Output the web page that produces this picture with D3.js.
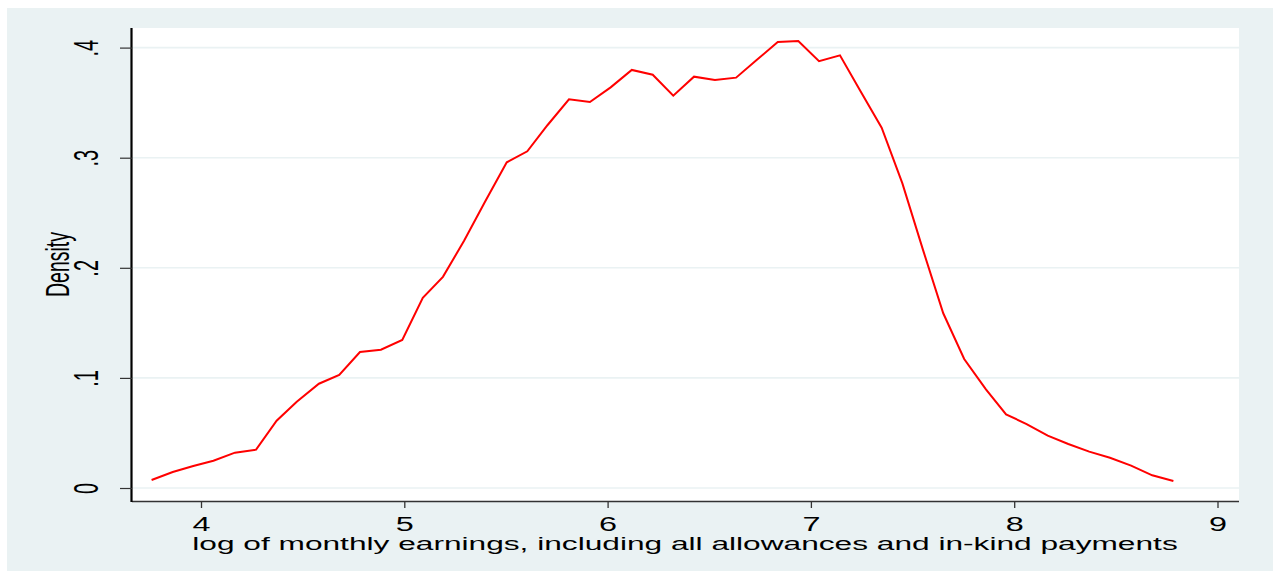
<!DOCTYPE html>
<html>
<head>
<meta charset="utf-8">
<script src="https://cdn.jsdelivr.net/npm/d3@7/dist/d3.min.js"></script>
<style>
  html, body { margin: 0; padding: 0; background: #ffffff; }
  svg { display: block; }
  text { font-family: "Liberation Sans", Arial, Helvetica, sans-serif; fill: #000; }
</style>
</head>
<body>
<svg id="chart" width="1273" height="571"></svg>
<script>
// ---- data ----
const earningsLog = [3.757, 3.861, 3.962, 4.061, 4.167, 4.271, 4.372, 4.471, 4.580, 4.680,
  4.782, 4.885, 4.990, 5.091, 5.190, 5.294, 5.397, 5.504, 5.605, 5.705,
  5.810, 5.913, 6.015, 6.119, 6.222, 6.323, 6.425, 6.528, 6.632, 6.733,
  6.837, 6.938, 7.040, 7.143, 7.242, 7.348, 7.450, 7.551, 7.651, 7.754,
  7.861, 7.960, 8.061, 8.165, 8.266, 8.369, 8.471, 8.575, 8.679, 8.783];
const density = [0.0073, 0.0145, 0.0200, 0.0248, 0.0321, 0.0348, 0.0611, 0.0784, 0.0947, 0.1026,
  0.1235, 0.1256, 0.1344, 0.1728, 0.1918, 0.2245, 0.2600, 0.2958, 0.3058, 0.3297,
  0.3530, 0.3506, 0.3639, 0.3797, 0.3754, 0.3563, 0.3736, 0.3706, 0.3727, 0.3887,
  0.4051, 0.4060, 0.3876, 0.3930, 0.3610, 0.3272, 0.2767, 0.2165, 0.1587, 0.1172,
  0.0896, 0.0669, 0.0581, 0.0475, 0.0400, 0.0330, 0.0275, 0.0203, 0.0115, 0.0064];
const xTicks = [4, 5, 6, 7, 8, 9];
const yTicks = [0, 0.1, 0.2, 0.3, 0.4];
const yTickLabels = ["0", ".1", ".2", ".3", ".4"];
const xTitle = "log of monthly earnings, including all allowances and in-kind payments";
const yTitle = "Density";

// ---- layout ----
const svg = d3.select("#chart");
const plot = { left: 132, right: 1239, top: 28, bottom: 501 };
const x = d3.scaleLinear().domain([4, 9]).range([201, 1217.5]);
const y = d3.scaleLinear().domain([0, 0.4]).range([488, 47.6]);
const bg = "#eaf2f3";

svg.append("rect").attr("x", 7).attr("y", 8).attr("width", 1273 - 7).attr("height", 571 - 8).attr("fill", bg);
svg.append("rect").attr("x", plot.left).attr("y", plot.top)
  .attr("width", plot.right - plot.left).attr("height", plot.bottom - plot.top).attr("fill", "#ffffff");

// grid lines
svg.append("g").selectAll("line").data(yTicks).join("line")
  .attr("x1", plot.left).attr("x2", plot.right)
  .attr("y1", d => y(d)).attr("y2", d => y(d))
  .attr("stroke", bg).attr("stroke-width", 1.6);

// density line
const line = d3.line().x((d, i) => x(earningsLog[i])).y(d => y(d));
svg.append("path").datum(density)
  .attr("d", line).attr("fill", "none").attr("stroke", "#ff0000")
  .attr("stroke-width", 2).attr("stroke-linejoin", "miter");

// x title (measure to derive horizontal stretch)
const titleG = svg.append("g").attr("transform", `translate(685,550)`);
const titleT = titleG.append("text").attr("text-anchor", "middle")
  .attr("font-size", 18.5).text(xTitle);
const natural = titleT.node().getComputedTextLength();
const sx = 986 / natural;
titleG.attr("transform", `translate(685,550) scale(${sx},1)`);

// x axis
const xAxis = d3.axisBottom(x).tickValues(xTicks).tickFormat(d3.format("d")).tickSize(7).tickPadding(0);
const gx = svg.append("g").attr("transform", `translate(0,${plot.bottom})`).call(xAxis);
gx.select(".domain").attr("d", `M${plot.left},0.5H${plot.right}`).attr("stroke", "#333").attr("stroke-width", 1.3);
gx.selectAll(".tick line").attr("stroke", "#333").attr("stroke-width", 1.3);
gx.selectAll(".tick text").each(function(d) {
  const t = d3.select(this);
  t.attr("font-size", 19.5).attr("font-family", null).attr("fill", "#000")
   .attr("y", 0).attr("dy", null)
   .attr("transform", `translate(0,29.5) scale(${sx * 0.97},1)`);
});
gx.attr("font-family", null).attr("font-size", null);

// y axis
const yAxis = d3.axisLeft(y).tickValues(yTicks).tickFormat((d, i) => yTickLabels[i]).tickSize(12).tickPadding(0);
const gy = svg.append("g").attr("transform", `translate(${plot.left},0)`).call(yAxis);
gy.select(".domain").attr("d", `M-0.5,${plot.top}V${plot.bottom + 1}`).attr("stroke", "#000").attr("stroke-width", 2.2);
gy.selectAll(".tick line").attr("stroke", "#333").attr("stroke-width", 1.2);
gy.selectAll(".tick text").each(function(d) {
  const t = d3.select(this);
  t.attr("font-size", 20).attr("fill", "#000").attr("x", 0).attr("dy", null)
   .attr("text-anchor", "middle")
   .attr("transform", `translate(-34,0) scale(${sx},1) rotate(-90)`);
});
gy.attr("font-family", null).attr("font-size", null);

// y title
svg.append("text").attr("text-anchor", "middle").attr("font-size", 19.5)
  .attr("transform", `translate(69,264.5) scale(${sx},1) rotate(-90)`)
  .text(yTitle);
</script>
</body>
</html>
